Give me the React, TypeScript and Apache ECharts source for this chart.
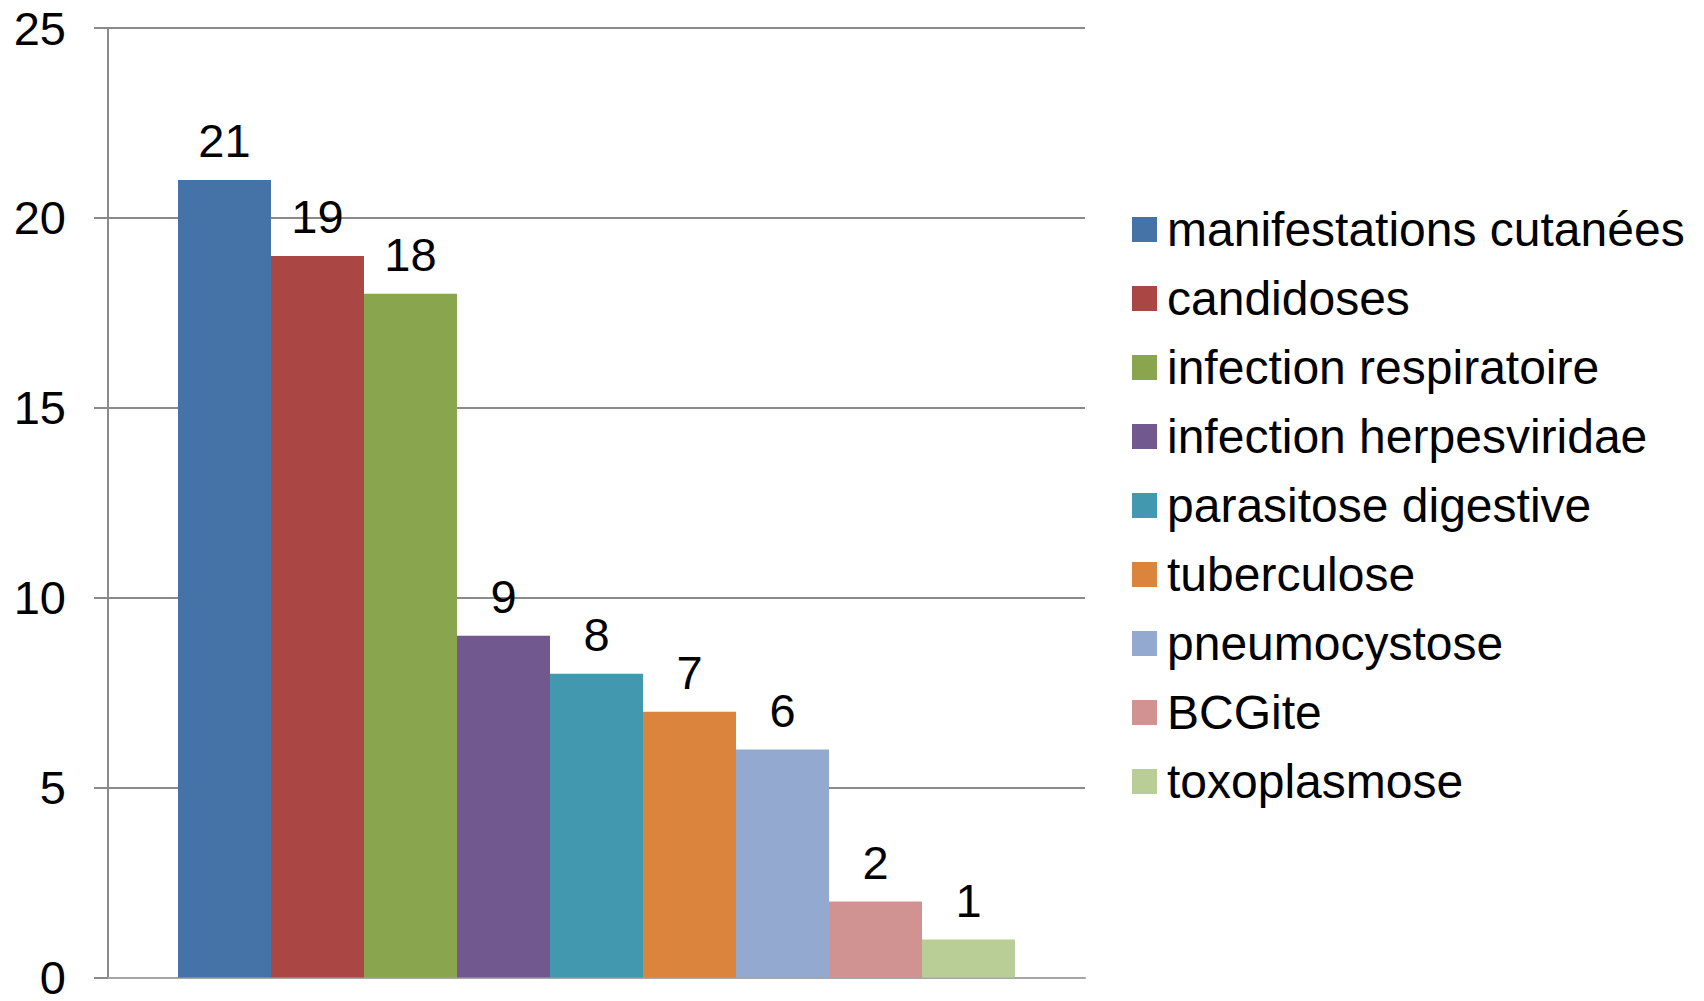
import React, { useEffect, useRef } from "react";
import * as echarts from "echarts";

const categories = [""];
const seriesNames = [
  "manifestations cutanées",
  "candidoses",
  "infection respiratoire",
  "infection herpesviridae",
  "parasitose digestive",
  "tuberculose",
  "pneumocystose",
  "BCGite",
  "toxoplasmose",
];
const seriesValues = [21, 19, 18, 9, 8, 7, 6, 2, 1];
const seriesColors = [
  "#4572A7",
  "#AA4643",
  "#89A54E",
  "#71588F",
  "#4198AF",
  "#DB843D",
  "#93A9CF",
  "#D19392",
  "#B9CD96",
];
const yMin = 0;
const yMax = 25;
const yInterval = 5;

const FONT = "'Liberation Sans', Arial, sans-serif";

export default function App() {
  const ref = useRef<HTMLDivElement>(null);
  useEffect(() => {
    if (!ref.current) return;
    const chart = echarts.init(ref.current, undefined, { renderer: "svg" });
    chart.setOption({
      animation: false,
      backgroundColor: "#ffffff",
      textStyle: { fontFamily: FONT },
      grid: { left: 108, width: 977, top: 28, height: 954.5, containLabel: false },
      legend: {
        orient: "vertical",
        left: 1127,
        top: 190,
        itemWidth: 25,
        itemHeight: 25,
        itemGap: 0,
        icon: "rect",
        data: seriesNames,
        textStyle: {
          fontFamily: FONT,
          fontSize: 48,
          color: "#000",
          lineHeight: 69,
          padding: [0, 0, 0, 5],
        },
      },
      xAxis: {
        type: "category",
        data: categories,
        axisLine: { show: true, lineStyle: { color: "#a6a6a6", width: 2 } },
        axisTick: { show: false },
        axisLabel: { show: false },
        splitLine: { show: false },
      },
      yAxis: {
        type: "value",
        min: yMin,
        max: yMax,
        interval: yInterval,
        axisLine: { show: true, lineStyle: { color: "#8a8a8a", width: 2 } },
        axisTick: { show: true, inside: false, length: 14, lineStyle: { color: "#8a8a8a", width: 2 } },
        axisLabel: { fontFamily: FONT, fontSize: 47, color: "#000", margin: 42 },
        splitLine: { show: true, lineStyle: { color: "#8a8a8a", width: 2 } },
      },
      series: seriesNames.map((name, i) => ({
        name,
        type: "bar",
        data: [seriesValues[i]],
        barWidth: 93,
        barGap: "0%",
        itemStyle: { color: seriesColors[i] },
        label: {
          show: true,
          position: "top",
          distance: 16,
          fontFamily: FONT,
          fontSize: 47,
          color: "#000",
        },
      })),
    });
    return () => chart.dispose();
  }, []);
  return (
    <div
      ref={ref}
      style={{ position: "absolute", left: 0, top: 0, width: 1704, height: 1001 }}
    />
  );
}
